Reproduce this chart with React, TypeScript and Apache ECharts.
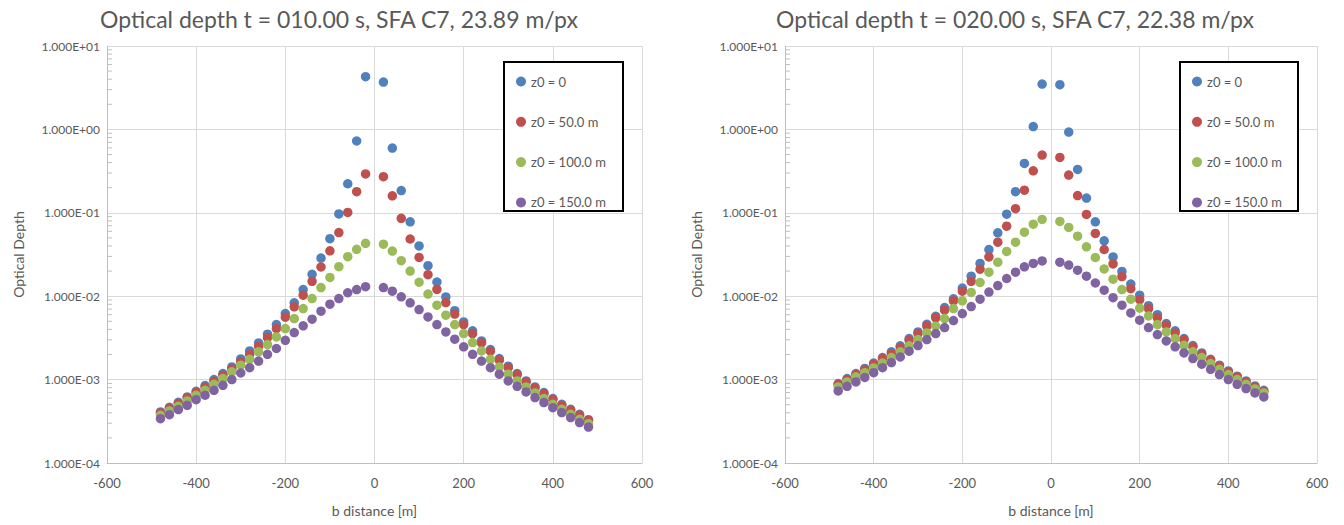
import React, { useEffect, useRef } from 'react';
import * as echarts from 'echarts';

const bDistance = [
  -480, -460, -440, -420, -400, -380, -360, -340, -320, -300, -280, -260,
  -240, -220, -200, -180, -160, -140, -120, -100, -80, -60, -40, -20,
  20, 40, 60, 80, 100, 120, 140, 160, 180, 200, 220, 240,
  260, 280, 300, 320, 340, 360, 380, 400, 420, 440, 460, 480,
];

const seriesNames = ['z0 = 0', 'z0 = 50.0 m', 'z0 = 100.0 m', 'z0 = 150.0 m'];
const seriesColors = ['#4F81BD', '#C0504D', '#9BBB59', '#8064A2'];

const leftTitle = 'Optical depth t = 010.00 s, SFA C7, 23.89 m/px';
const rightTitle = 'Optical depth t = 020.00 s, SFA C7, 22.38 m/px';

// t = 10 s
const leftZ0 = [
  4.09e-4, 4.66e-4, 5.35e-4, 6.19e-4, 7.24e-4, 8.47e-4, 1.0e-3, 1.18e-3, 1.42e-3, 1.77e-3, 2.21e-3, 2.75e-3,
  3.5e-3, 4.57e-3, 6.19e-3, 8.32e-3, 1.2e-2, 1.83e-2, 2.87e-2, 4.9e-2, 9.7e-2, 0.223, 0.726, 4.28,
  3.7, 0.598, 0.185, 0.078, 0.04, 0.0232, 0.0148, 0.0098, 0.0067, 4.92e-3, 3.84e-3, 2.91e-3,
  2.29e-3, 1.79e-3, 1.45e-3, 1.18e-3, 9.64e-4, 8.17e-4, 6.98e-4, 5.92e-4, 5.06e-4, 4.41e-4, 3.84e-4, 3.31e-4,
];
const leftZ50 = [
  3.98e-4, 4.53e-4, 5.2e-4, 6.03e-4, 6.98e-4, 8.09e-4, 9.55e-4, 1.13e-3, 1.34e-3, 1.64e-3, 2.01e-3, 2.51e-3,
  3.19e-3, 4.09e-3, 5.6e-3, 7.45e-3, 1.03e-2, 1.51e-2, 2.24e-2, 3.5e-2, 5.8e-2, 0.101, 0.179, 0.292,
  0.271, 0.16, 0.086, 0.0485, 0.0292, 0.0181, 0.0121, 0.0084, 0.0061, 4.57e-3, 3.56e-3, 2.75e-3,
  2.19e-3, 1.71e-3, 1.39e-3, 1.15e-3, 9.38e-4, 7.94e-4, 6.79e-4, 5.81e-4, 4.92e-4, 4.29e-4, 3.73e-4, 3.25e-4,
];
const leftZ100 = [
  3.73e-4, 4.21e-4, 4.79e-4, 5.55e-4, 6.49e-4, 7.45e-4, 8.79e-4, 1.03e-3, 1.24e-3, 1.49e-3, 1.75e-3, 2.15e-3,
  2.63e-3, 3.25e-3, 4.09e-3, 5.4e-3, 7.11e-3, 9.38e-3, 1.27e-2, 1.68e-2, 2.26e-2, 2.98e-2, 3.65e-2, 4.3e-2,
  4.2e-2, 3.48e-2, 2.67e-2, 2.0e-2, 1.47e-2, 1.06e-2, 7.8e-3, 5.92e-3, 4.57e-3, 3.56e-3, 2.78e-3, 2.21e-3,
  1.75e-3, 1.42e-3, 1.16e-3, 9.64e-4, 8.17e-4, 6.92e-4, 5.92e-4, 5.06e-4, 4.41e-4, 3.84e-4, 3.34e-4, 2.96e-4,
];
const leftZ150 = [
  3.4e-4, 3.8e-4, 4.37e-4, 4.92e-4, 5.75e-4, 6.49e-4, 7.45e-4, 8.55e-4, 1.0e-3, 1.2e-3, 1.39e-3, 1.67e-3,
  2.01e-3, 2.36e-3, 2.96e-3, 3.66e-3, 4.41e-3, 5.3e-3, 6.61e-3, 8.02e-3, 9.38e-3, 1.1e-2, 1.2e-2, 1.3e-2,
  1.27e-2, 1.15e-2, 9.82e-3, 8.32e-3, 6.92e-3, 5.65e-3, 4.57e-3, 3.73e-3, 3.05e-3, 2.47e-3, 2.01e-3, 1.67e-3,
  1.39e-3, 1.16e-3, 9.64e-4, 8.32e-4, 7.11e-4, 6.08e-4, 5.3e-4, 4.61e-4, 4.02e-4, 3.5e-4, 3.05e-4, 2.7e-4,
];

// t = 20 s
const rightZ0 = [
  8.95e-4, 1.03e-3, 1.18e-3, 1.36e-3, 1.58e-3, 1.84e-3, 2.15e-3, 2.54e-3, 3.1e-3, 3.73e-3, 4.61e-3, 5.75e-3,
  7.3e-3, 9.3e-3, 1.25e-2, 1.74e-2, 2.47e-2, 3.63e-2, 5.75e-2, 9.64e-2, 0.179, 0.391, 1.08, 3.5,
  3.44, 0.929, 0.331, 0.15, 0.078, 0.0461, 0.0296, 0.0198, 0.014, 0.0103, 0.0077, 0.006,
  4.7e-3, 3.84e-3, 3.1e-3, 2.56e-3, 2.09e-3, 1.75e-3, 1.49e-3, 1.27e-3, 1.1e-3, 9.64e-4, 8.39e-4, 7.45e-4,
];
const rightZ50 = [
  8.79e-4, 1.0e-3, 1.15e-3, 1.32e-3, 1.53e-3, 1.79e-3, 2.05e-3, 2.42e-3, 2.96e-3, 3.56e-3, 4.37e-3, 5.5e-3,
  6.8e-3, 8.8e-3, 1.15e-2, 1.51e-2, 2.11e-2, 2.96e-2, 4.45e-2, 6.92e-2, 0.112, 0.187, 0.319, 0.492,
  0.461, 0.283, 0.161, 0.0955, 0.0565, 0.0363, 0.0244, 0.0172, 0.0123, 0.0091, 0.0071, 0.0055,
  4.49e-3, 3.63e-3, 3.02e-3, 2.47e-3, 2.01e-3, 1.71e-3, 1.45e-3, 1.24e-3, 1.08e-3, 9.38e-4, 8.17e-4, 7.24e-4,
];
const rightZ100 = [
  8.17e-4, 9.38e-4, 1.08e-3, 1.21e-3, 1.38e-3, 1.58e-3, 1.84e-3, 2.15e-3, 2.54e-3, 3.02e-3, 3.63e-3, 4.37e-3,
  5.4e-3, 7.1e-3, 8.8e-3, 1.11e-2, 1.46e-2, 1.94e-2, 2.56e-2, 3.44e-2, 4.45e-2, 5.86e-2, 7.31e-2, 8.32e-2,
  7.87e-2, 6.67e-2, 5.25e-2, 3.91e-2, 2.91e-2, 2.12e-2, 1.6e-2, 1.2e-2, 9.2e-3, 7.2e-3, 5.8e-3, 4.57e-3,
  3.73e-3, 3.1e-3, 2.58e-3, 2.15e-3, 1.84e-3, 1.56e-3, 1.33e-3, 1.15e-3, 1.0e-3, 8.79e-4, 7.73e-4, 6.92e-4,
];
const rightZ150 = [
  7.31e-4, 8.32e-4, 9.38e-4, 1.06e-3, 1.21e-3, 1.39e-3, 1.6e-3, 1.87e-3, 2.19e-3, 2.56e-3, 3.02e-3, 3.56e-3,
  4.21e-3, 5.11e-3, 6.2e-3, 7.5e-3, 9.2e-3, 1.12e-2, 1.34e-2, 1.63e-2, 1.94e-2, 2.25e-2, 2.47e-2, 2.65e-2,
  2.56e-2, 2.36e-2, 2.05e-2, 1.74e-2, 1.44e-2, 1.18e-2, 9.6e-3, 7.8e-3, 6.3e-3, 5.15e-3, 4.21e-3, 3.47e-3,
  2.91e-3, 2.47e-3, 2.09e-3, 1.79e-3, 1.53e-3, 1.33e-3, 1.15e-3, 1.0e-3, 8.79e-4, 7.8e-4, 6.92e-4, 6.19e-4,
];

const yTickValues = [1e-4, 1e-3, 1e-2, 1e-1, 1, 10];
const yTickLabels = ['1.000E-04', '1.000E-03', '1.000E-02', '1.000E-01', '1.000E+00', '1.000E+01'];
const xTickLabels = ['-600', '-400', '-200', '0', '200', '400', '600'];
const minorTickValues = [
  2e-4, 3e-4, 4e-4, 5e-4, 6e-4, 7e-4, 8e-4, 9e-4,
  2e-3, 3e-3, 4e-3, 5e-3, 6e-3, 7e-3, 8e-3, 9e-3,
  2e-2, 3e-2, 4e-2, 5e-2, 6e-2, 7e-2, 8e-2, 9e-2,
  0.2, 0.3, 0.4, 0.5, 0.6, 0.7, 0.8, 0.9,
  2, 3, 4, 5, 6, 7, 8, 9,
];

const FONT = 'Lato, "Open Sans", sans-serif';
const TEXT = '#595959';

export default function App() {
  const ref = useRef<HTMLDivElement>(null);

  useEffect(() => {
    if (!ref.current) return;
    const chart = echarts.init(ref.current, undefined, { renderer: 'svg' });

    const grids = [
      { left: 107, top: 46, width: 535, height: 417 },
      { left: 785, top: 46, width: 532, height: 417 },
    ];

    const yLabel = (v: number) => {
      const i = yTickValues.findIndex((t) => Math.abs(Math.log10(t) - Math.log10(v)) < 1e-6);
      return i >= 0 ? yTickLabels[i] : '';
    };
    const xLabel = (v: number) => {
      const i = Math.round((v + 600) / 200);
      return xTickLabels[i] ?? '';
    };

    const xAxis = grids.map((_, idx) => ({
      type: 'value',
      gridIndex: idx,
      min: -600,
      max: 600,
      interval: 200,
      name: 'b distance [m]',
      nameLocation: 'middle',
      nameGap: 40,
      nameTextStyle: { color: TEXT, fontFamily: FONT, fontSize: 14 },
      axisLine: { show: true, onZero: false, lineStyle: { color: '#bfbfbf', width: 1 } },
      axisTick: { show: false },
      axisLabel: { formatter: xLabel, color: TEXT, fontFamily: FONT, fontSize: 13, margin: 13 },
      splitLine: { show: true, lineStyle: { color: '#d9d9d9', width: 1 } },
    }));

    const yAxis = grids.map((_, idx) => ({
      type: 'log',
      logBase: 10,
      gridIndex: idx,
      min: 1e-4,
      max: 10,
      name: 'Optical Depth',
      nameLocation: 'middle',
      nameRotate: 90,
      nameGap: 82,
      nameTextStyle: { color: TEXT, fontFamily: FONT, fontSize: 14 },
      axisLine: { show: true, onZero: false, lineStyle: { color: '#bfbfbf', width: 1 } },
      axisTick: { show: false },
      axisLabel: { formatter: yLabel, color: TEXT, fontFamily: FONT, fontSize: 12, margin: 7 },
      splitLine: { show: true, lineStyle: { color: '#d9d9d9', width: 1 } },
    }));

    const sets = [
      [leftZ0, leftZ50, leftZ100, leftZ150],
      [rightZ0, rightZ50, rightZ100, rightZ150],
    ];

    const series: any[] = [];
    sets.forEach((group, idx) => {
      series.push({
        type: 'custom',
        xAxisIndex: idx,
        yAxisIndex: idx,
        silent: true,
        z: 3,
        data: minorTickValues.map((v) => [-600, v]),
        renderItem: (_p: any, api: any) => {
          const p = api.coord([api.value(0), api.value(1)]);
          return {
            type: 'line',
            shape: { x1: p[0], y1: p[1], x2: p[0] + 5, y2: p[1] },
            style: { stroke: '#bfbfbf', lineWidth: 1 },
          };
        },
      });
      group.forEach((vals, si) => {
        series.push({
          type: 'scatter',
          name: seriesNames[si],
          xAxisIndex: idx,
          yAxisIndex: idx,
          symbol: 'circle',
          symbolSize: 9.5,
          z: 2,
          itemStyle: { color: seriesColors[si], opacity: 1 },
          data: bDistance.map((x, i) => [x, vals[i]]),
        });
      });
    });

    const legendBase = {
      data: seriesNames,
      orient: 'vertical',
      top: 75,
      itemWidth: 10,
      itemHeight: 10,
      itemGap: 27.3,
      icon: 'circle',
      padding: 0,
      selectedMode: false,
      z: 5,
      textStyle: { color: TEXT, fontFamily: FONT, fontSize: 13 },
    };

    chart.setOption({
      animation: false,
      backgroundColor: '#ffffff',
      grid: grids,
      xAxis,
      yAxis,
      series,
      legend: [
        { ...legendBase, left: 516 },
        { ...legendBase, left: 1192 },
      ],
      graphic: [
        {
          type: 'text',
          x: 339,
          y: 19,
          style: { text: leftTitle, fill: TEXT, font: `23px ${FONT}`, textAlign: 'center', textVerticalAlign: 'middle' },
        },
        {
          type: 'text',
          x: 1015,
          y: 19,
          style: { text: rightTitle, fill: TEXT, font: `23px ${FONT}`, textAlign: 'center', textVerticalAlign: 'middle' },
        },
        {
          type: 'rect',
          z: 3,
          shape: { x: 504, y: 62, width: 119, height: 149 },
          style: { fill: '#ffffff', stroke: '#000000', lineWidth: 2 },
        },
        {
          type: 'rect',
          z: 3,
          shape: { x: 1180, y: 62, width: 118, height: 149 },
          style: { fill: '#ffffff', stroke: '#000000', lineWidth: 2 },
        },
      ],
    });

    return () => chart.dispose();
  }, []);

  return (
    <div
      ref={ref}
      style={{ position: 'fixed', left: 0, top: 0, width: 1344, height: 525, background: '#fff' }}
    />
  );
}
